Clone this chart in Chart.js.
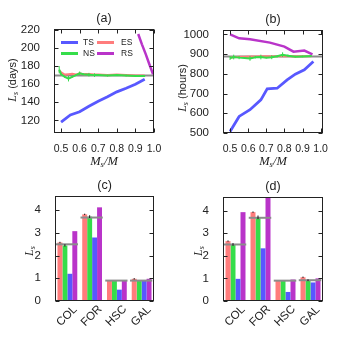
<!DOCTYPE html>
<html>
<head>
<meta charset="utf-8">
<script src="https://cdn.jsdelivr.net/npm/chart.js@4.4.0/dist/chart.umd.min.js"></script>
<style>
  html, body { margin: 0; padding: 0; background: #fff; }
  .panel { position: absolute; width: 172px; height: 172px; }
</style>
</head>
<body>
<div class="panel" style="left:0;top:0"><canvas id="chartA" width="172" height="172"></canvas></div>
<div class="panel" style="left:171px;top:0"><canvas id="chartB" width="172" height="172"></canvas></div>
<div class="panel" style="left:0;top:171px"><canvas id="chartC" width="172" height="172"></canvas></div>
<div class="panel" style="left:171px;top:171px"><canvas id="chartD" width="172" height="172"></canvas></div>
<script>
// ---- panel (a): L_s in days ----
const xTicks = [0.5, 0.6, 0.7, 0.8, 0.9, 1.0];
const yTicksA = [120, 140, 160, 180, 200, 220];
const tsXA = [0.5, 0.55, 0.6, 0.65, 0.7, 0.75, 0.8, 0.85, 0.9, 0.95];
const tsA = [118, 126, 129.5, 135.5, 141, 146, 151.5, 155.5, 160, 165.5];
const rsXA = [0.915, 0.935, 0.955, 0.975, 0.995];
const rsA = [215.5, 204, 193.5, 182, 171];
const fitXA = [0.49, 0.5, 0.52, 0.54, 0.56, 0.58, 0.6, 0.62, 0.65, 0.68, 0.7, 0.75, 0.8, 0.85, 0.9, 0.95];
const esA = [175, 173, 170.5, 171, 171.5, 170.5, 172, 171, 171, 170.5, 170.5, 170, 170.5, 170, 169.5, 169.5];
const nsA = [176, 171, 168, 166, 168, 170, 172, 171, 170.5, 170, 170, 169.5, 170, 169.5, 169, 169];
const nsErrA = [4, 1, 1, 3, 1, 1, 2, 1, 2, 2, 1, 1, 1, 1, 1, 1];
const refA = 169.5;

// ---- panel (b): L_s in hours ----
const yTicksB = [500, 600, 700, 800, 900, 1000];
const tsXB = [0.5, 0.55, 0.61, 0.67, 0.705, 0.76, 0.815, 0.86, 0.91, 0.96];
const tsB = [508, 584, 618, 668, 724, 727, 769, 798, 820, 862];
const rsXB = [0.5, 0.55, 0.61, 0.72, 0.8, 0.85, 0.91, 0.955];
const rsB = [1000, 980, 975, 958, 938, 912, 918, 899];
const fitXB = [0.5, 0.52, 0.55, 0.58, 0.61, 0.64, 0.67, 0.7, 0.73, 0.76, 0.79, 0.82, 0.86, 0.9, 0.95];
const esB = [882, 884, 886, 886, 887, 887, 888, 888, 889, 889, 890, 889, 888, 889, 889];
const nsB = [880, 885, 882, 880, 878, 884, 885, 882, 884, 889, 897, 892, 887, 888, 890];
const nsErrB = [10, 12, 8, 5, 12, 6, 12, 4, 10, 6, 12, 6, 4, 4, 3];
const refB = 888;

// ---- panels (c) and (d): grouped bars ----
const groups = ['COL', 'FOR', 'HSC', 'GAL'];
const yTicksBar = [0, 1, 2, 3, 4];
const esC = [2.58, 3.82, 0.9, 0.98];
const nsC = [2.45, 3.72, 0.88, 0.88];
const tsC = [1.2, 2.8, 0.5, 0.9];
const rsC = [3.08, 4.13, 0.9, 0.98];
const refC = [2.5, 3.68, 0.9, 0.9];
const esErrC = [0.03, 0.03, 0, 0.03];
const nsErrC = [0.05, 0.06, 0, 0];
const esD = [2.65, 3.93, 0.9, 1.05];
const nsD = [2.5, 3.7, 0.9, 0.92];
const tsD = [0.98, 2.33, 0.4, 0.82];
const rsD = [3.93, 4.6, 0.95, 1.0];
const refD = [2.5, 3.68, 0.9, 0.92];
const esErrD = [0.03, 0.03, 0, 0.03];
const nsErrD = [0.06, 0.08, 0, 0.04];

const C_TS = '#5858ff', C_ES = '#ff7c7c', C_NS = '#35dd4a', C_RS = '#b934c9', C_REF = '#8c8c8c';
const INK = '#222';
const SANS = "'Liberation Sans', Arial, sans-serif";
const SERIF = "'Liberation Serif', 'DejaVu Serif', serif";

const pts = (xs, ys) => xs.map((x, i) => ({ x: x, y: ys[i] }));

function drawParts(ctx, parts, x, y, rot) {
  ctx.save();
  ctx.translate(x, y);
  ctx.rotate(rot);
  let w = 0;
  parts.forEach(p => { ctx.font = p.font; p.w = ctx.measureText(p.t).width; w += p.w; });
  let cx = -w / 2;
  ctx.textBaseline = 'middle';
  ctx.textAlign = 'left';
  ctx.fillStyle = INK;
  parts.forEach(p => { ctx.font = p.font; ctx.fillText(p.t, cx, p.dy || 0); cx += p.w; });
  ctx.restore();
}

const panelDecor = {
  id: 'panelDecor',
  afterDatasetsDraw(chart, args, o) {
    const { ctx, chartArea: a } = chart;
    const sx = chart.scales.x, sy = chart.scales.y;
    ctx.save();

    // reference level per group
    if (o.refs) {
      const step = sx.getPixelForValue(1) - sx.getPixelForValue(0);
      ctx.strokeStyle = C_REF;
      ctx.lineWidth = 2;
      o.refs.forEach((v, i) => {
        const cx = sx.getPixelForValue(i), y = sy.getPixelForValue(v);
        ctx.beginPath();
        ctx.moveTo(cx - step * 0.47, y);
        ctx.lineTo(cx + step * 0.43, y);
        ctx.stroke();
      });
    }

    // error bars
    chart.data.datasets.forEach((ds, i) => {
      if (!ds.err) return;
      const meta = chart.getDatasetMeta(i);
      ctx.strokeStyle = ds.errColor;
      ctx.lineWidth = 1;
      meta.data.forEach((el, j) => {
        const e = ds.err[j];
        if (!e) return;
        const v = typeof ds.data[j] === 'object' ? ds.data[j].y : ds.data[j];
        ctx.beginPath();
        ctx.moveTo(el.x, sy.getPixelForValue(v - e));
        ctx.lineTo(el.x, sy.getPixelForValue(v + e));
        ctx.stroke();
      });
    });

    // frame with inward ticks
    ctx.strokeStyle = INK;
    ctx.lineWidth = 1;
    const L = Math.round(a.left) + 0.5, R = Math.round(a.right) - 0.5;
    const T = Math.round(a.top) + 0.5, B = Math.round(a.bottom) - 0.5;
    ctx.strokeRect(L, T, R - L, B - T);
    ctx.beginPath();
    sy.ticks.forEach(t => {
      const y = Math.round(sy.getPixelForValue(t.value)) + 0.5;
      ctx.moveTo(L, y); ctx.lineTo(L + 4, y);
      ctx.moveTo(R, y); ctx.lineTo(R - 4, y);
    });
    if (o.xTicks) {
      sx.ticks.forEach(t => {
        const x = Math.round(sx.getPixelForValue(t.value)) + 0.5;
        ctx.moveTo(x, B); ctx.lineTo(x, B - 4);
        ctx.moveTo(x, T); ctx.lineTo(x, T + 4);
      });
    }
    ctx.stroke();

    // category labels, rotated and centred on each group
    if (o.refs) {
      ctx.font = '11.5px ' + SANS;
      ctx.fillStyle = INK;
      ctx.textAlign = 'center';
      ctx.textBaseline = 'middle';
      chart.data.labels.forEach((lab, i) => {
        ctx.save();
        ctx.translate(sx.getPixelForValue(i) - 0.5, a.bottom + 15);
        ctx.rotate(-Math.PI / 4);
        ctx.fillText(lab, 0, 0);
        ctx.restore();
      });
    }

    // panel label
    ctx.fillStyle = INK;
    ctx.font = '12.5px ' + SANS;
    ctx.textAlign = 'center';
    ctx.textBaseline = 'middle';
    ctx.fillText(o.title, (a.left + a.right) / 2, a.top - 10.5);

    // axis titles
    drawParts(ctx, [
      { t: 'L', font: 'italic 12px ' + SERIF },
      { t: 's', font: 'italic 8px ' + SERIF, dy: 3 },
      { t: o.yUnit, font: '11px ' + SANS }
    ], a.left + o.yTitleDx, o.yTitleY, -Math.PI / 2);
    if (o.xTitle) {
      drawParts(ctx, [
        { t: 'M', font: 'italic 12.5px ' + SERIF },
        { t: 's', font: 'italic 8.5px ' + SERIF, dy: 3 },
        { t: '/M', font: 'italic 12.5px ' + SERIF }
      ], (a.left + a.right) / 2, a.bottom + 29, 0);
    }

    // legend inside panel (a)
    if (o.legend) {
      ctx.font = '8.5px ' + SANS;
      ctx.textAlign = 'left';
      o.legend.forEach(item => {
        const ds = chart.data.datasets.find(d => d.label === item.label);
        const y = a.top + item.dy;
        ctx.strokeStyle = ds.borderColor;
        ctx.lineWidth = 3;
        ctx.beginPath();
        ctx.moveTo(a.left + item.dx, y);
        ctx.lineTo(a.left + item.dx + 17, y);
        ctx.stroke();
        ctx.fillStyle = INK;
        ctx.fillText(item.label, a.left + item.dx + item.tx, y);
      });
    }
    ctx.restore();
  }
};

function lineDs(label, data, color, width, order, err) {
  return {
    label: label, data: data, borderColor: color, backgroundColor: color,
    borderWidth: width, pointRadius: 0, tension: 0, order: order,
    err: err, errColor: color
  };
}

function makeLineChart(id, o) {
  return new Chart(document.getElementById(id), {
    type: 'line',
    data: {
      datasets: [
        lineDs('NS', o.ns, C_NS, 2, 1, o.nsErr),
        lineDs('ES', o.es, C_ES, 2.2, 2),
        lineDs('TS', o.ts, C_TS, 2.8, 3),
        lineDs('RS', o.rs, C_RS, 2.5, 4),
        lineDs('ref', o.ref, C_REF, 2, 5)
      ]
    },
    options: {
      responsive: false,
      animation: false,
      layout: { padding: o.pad },
      plugins: {
        legend: { display: false },
        tooltip: { enabled: false },
        panelDecor: o.decor
      },
      scales: {
        x: {
          type: 'linear', min: o.xMin, max: o.xMax,
          grid: { display: false }, border: { display: false },
          afterBuildTicks: s => { s.ticks = xTicks.map(v => ({ value: v })); },
          afterFit: s => { s.height = o.xH; },
          ticks: {
            color: INK, padding: 2, autoSkip: false, minRotation: 0, maxRotation: 0,
            font: { family: SANS, size: 10.5 }, callback: v => v.toFixed(1)
          }
        },
        y: {
          min: o.yMin, max: o.yMax,
          grid: { display: false }, border: { display: false },
          afterBuildTicks: s => { s.ticks = o.yTicks.map(v => ({ value: v })); },
          afterFit: s => { s.width = o.yW; },
          ticks: { color: INK, padding: 6, font: { family: SANS, size: 11.5 }, callback: v => String(v) }
        }
      }
    },
    plugins: [panelDecor]
  });
}

function barDs(label, data, color, err) {
  return {
    label: label, data: data, backgroundColor: color, borderWidth: 0,
    categoryPercentage: 0.8, barPercentage: 1.0, err: err, errColor: '#111'
  };
}

function makeBarChart(id, o) {
  return new Chart(document.getElementById(id), {
    type: 'bar',
    data: {
      labels: groups,
      datasets: [
        barDs('ES', o.es, C_ES, o.esErr),
        barDs('NS', o.ns, C_NS, o.nsErr),
        barDs('TS', o.ts, C_TS),
        barDs('RS', o.rs, C_RS)
      ]
    },
    options: {
      responsive: false,
      animation: false,
      layout: { padding: o.pad },
      plugins: {
        legend: { display: false },
        tooltip: { enabled: false },
        panelDecor: o.decor
      },
      scales: {
        x: {
          grid: { display: false }, border: { display: false },
          afterFit: s => { s.height = o.xH; },
          ticks: { display: false }
        },
        y: {
          min: 0, max: o.yMax,
          grid: { display: false }, border: { display: false },
          afterBuildTicks: s => { s.ticks = yTicksBar.map(v => ({ value: v })); },
          afterFit: s => { s.width = o.yW; },
          ticks: { color: INK, padding: 6, font: { family: SANS, size: 11.5 } }
        }
      }
    },
    plugins: [panelDecor]
  });
}

makeLineChart('chartA', {
  ts: pts(tsXA, tsA), rs: pts(rsXA, rsA), es: pts(fitXA, esA), ns: pts(fitXA, nsA),
  nsErr: nsErrA, ref: [{ x: 0.462, y: refA }, { x: 1.0, y: refA }],
  xMin: 0.462, xMax: 1.0, yMin: 106, yMax: 221, yTicks: yTicksA,
  pad: { left: 0, top: 29, right: 18, bottom: 0 }, yW: 54, xH: 39,
  decor: {
    title: '(a)', yUnit: ' (days)', yTitleDx: -41, yTitleY: 80, xTitle: true, xTicks: true,
    legend: [
      { label: 'TS', dx: 7, dy: 13.5, tx: 22 },
      { label: 'ES', dx: 43, dy: 13.5, tx: 24 },
      { label: 'NS', dx: 7, dy: 24.5, tx: 22 },
      { label: 'RS', dx: 43, dy: 24.5, tx: 24 }
    ]
  }
});

makeLineChart('chartB', {
  ts: pts(tsXB, tsB), rs: pts(rsXB, rsB), es: pts(fitXB, esB), ns: pts(fitXB, nsB),
  nsErr: nsErrB, ref: [{ x: 0.461, y: refB }, { x: 1.013, y: refB }],
  xMin: 0.461, xMax: 1.013, yMin: 500, yMax: 1022, yTicks: yTicksB,
  pad: { left: 0, top: 30, right: 20, bottom: 0 }, yW: 52, xH: 39,
  decor: { title: '(b)', yUnit: ' (hours)', yTitleDx: -40, yTitleY: 88, xTitle: true, xTicks: true }
});

makeBarChart('chartC', {
  es: esC, ns: nsC, ts: tsC, rs: rsC, esErr: esErrC, nsErr: nsErrC, yMax: 4.63,
  pad: { left: 0, top: 25, right: 18, bottom: 0 }, yW: 55, xH: 42,
  decor: { title: '(c)', yUnit: '', yTitleDx: -25, yTitleY: 80, refs: refC }
});

makeBarChart('chartD', {
  es: esD, ns: nsD, ts: tsD, rs: rsD, esErr: esErrD, nsErr: nsErrD, yMax: 4.6,
  pad: { left: 0, top: 26, right: 20, bottom: 0 }, yW: 52, xH: 42,
  decor: { title: '(d)', yUnit: '', yTitleDx: -24, yTitleY: 80, refs: refD }
});
</script>
</body>
</html>
